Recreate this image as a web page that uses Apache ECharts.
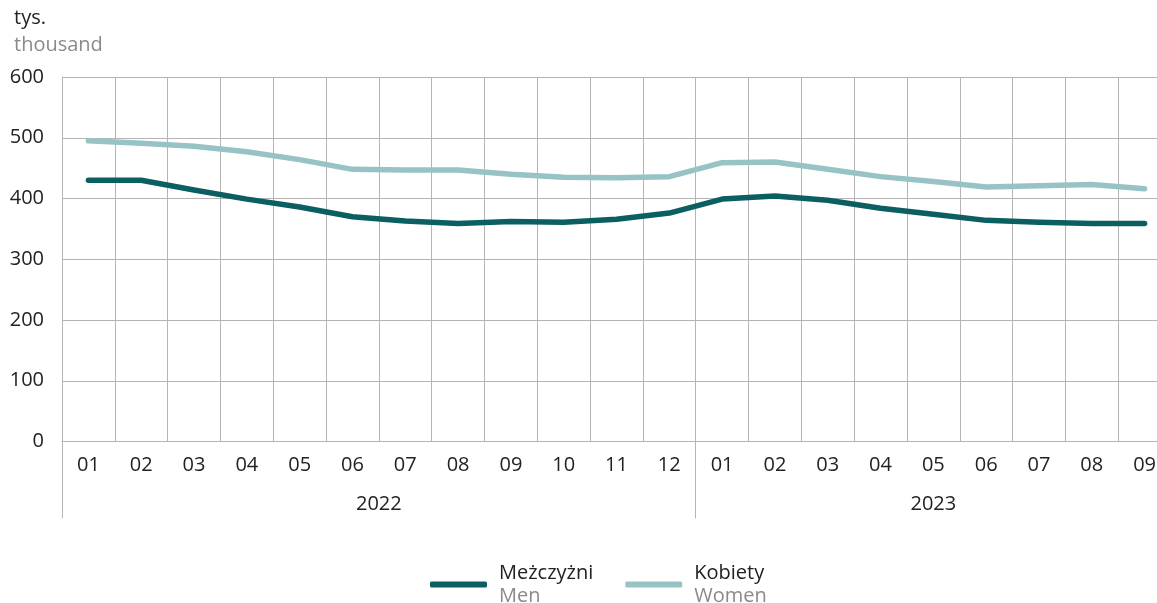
<!DOCTYPE html>
<html>
<head>
<meta charset="utf-8">
<script src="https://cdn.jsdelivr.net/npm/echarts@6/dist/echarts.min.js"></script>
<style>
html,body{margin:0;padding:0;background:#fff;}
#chart{width:1157px;height:603px;}
</style>
</head>
<body>
<div id="chart"></div>
<script>
const months = ['01','02','03','04','05','06','07','08','09','10','11','12','01','02','03','04','05','06','07','08','09'];
const years = ['2022','2023'];
const yearSpans = [12, 9];
const yTicks = [0, 100, 200, 300, 400, 500, 600];
const menName = ['Meżczyżni', 'Men'];
const womenName = ['Kobiety', 'Women'];
const menValues = [430,430,414,399,386,370,363,359,362,361,366,376,399,404,397,384,374,364,361,359,359];
const womenValues = [495,491,486,477,464,448,447,447,440,435,434,436,459,460,448,436,428,419,421,423,416];

const FONT = "'Open Sans', 'Noto Sans', sans-serif";
const DARK = '#222222';
const GREY = '#8a8a8a';
const GRID = '#b4b4b4';

const chart = echarts.init(document.getElementById('chart'));

const yearStarts = [];
let acc = 0;
yearSpans.forEach(s => { yearStarts.push(acc); acc += s; });
const yearCenters = yearSpans.map((s, i) => yearStarts[i] + s / 2);

chart.setOption({
  backgroundColor: '#ffffff',
  animation: false,
  textStyle: { fontFamily: FONT },
  title: [
    { text: 'tys.', left: 14, top: 8, padding: 0, textStyle: { fontFamily: FONT, fontSize: 20, fontWeight: 'normal', color: DARK } },
    { text: 'thousand', left: 14, top: 35, padding: 0, textStyle: { fontFamily: FONT, fontSize: 20, fontWeight: 'normal', color: GREY } }
  ],
  grid: { left: 62, width: 1109, top: 77, bottom: 161.5, containLabel: false, outerBoundsMode: 'none' },
  legend: {
    left: 430, top: 563, padding: 0,
    itemWidth: 57, itemHeight: 6, itemGap: 32,
    icon: 'roundRect',
    data: [menName[0], womenName[0]],
    formatter: function (name) {
      const en = name === menName[0] ? menName[1] : womenName[1];
      return '{a|' + name + '}\n{b|' + en + '}';
    },
    textStyle: {
      padding: [0, 0, 0, 7],
      rich: {
        a: { fontFamily: FONT, fontSize: 20, color: DARK, lineHeight: 23 },
        b: { fontFamily: FONT, fontSize: 20, color: GREY, lineHeight: 23 }
      }
    }
  },
  xAxis: [
    {
      type: 'category',
      data: months,
      boundaryGap: true,
      axisLine: { show: true, lineStyle: { color: GRID, width: 1 } },
      axisTick: { show: false },
      axisLabel: { color: DARK, fontFamily: FONT, fontSize: 20, margin: 14, interval: 0 },
      splitLine: { show: true, interval: 0, lineStyle: { color: GRID, width: 1 } }
    },
    {
      type: 'value',
      min: 0, max: months.length,
      position: 'bottom',
      axisLine: { show: false },
      splitLine: { show: false },
      axisTick: { show: true, customValues: yearStarts, length: 77, inside: false, lineStyle: { color: GRID, width: 1 } },
      axisLabel: {
        show: true, customValues: yearCenters, margin: 53,
        color: DARK, fontFamily: FONT, fontSize: 20,
        formatter: function (v) {
          const i = yearCenters.indexOf(v);
          return i >= 0 ? years[i] : '';
        }
      }
    }
  ],
  yAxis: {
    type: 'value',
    min: yTicks[0], max: yTicks[yTicks.length - 1], interval: 100,
    axisLine: { show: true, lineStyle: { color: GRID, width: 1 } },
    axisTick: { show: false },
    axisLabel: { color: DARK, fontFamily: FONT, fontSize: 20, margin: 18 },
    splitLine: { show: true, lineStyle: { color: GRID, width: 1 } }
  },
  series: [
    {
      name: menName[0], type: 'line', data: menValues, xAxisIndex: 0,
      symbol: 'none', smooth: false,
      lineStyle: { color: '#0b5f60', width: 5.5, cap: 'round', join: 'round' },
      itemStyle: { color: '#0b5f60' }
    },
    {
      name: womenName[0], type: 'line', data: womenValues, xAxisIndex: 0,
      symbol: 'none', smooth: false,
      lineStyle: { color: '#98c3c5', width: 5.5, cap: 'round', join: 'round' },
      itemStyle: { color: '#98c3c5' }
    }
  ]
});
</script>
</body>
</html>
